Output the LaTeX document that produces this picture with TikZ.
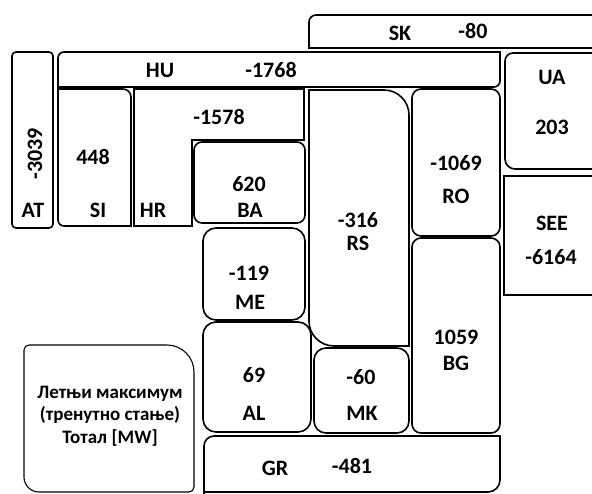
\documentclass[tikz,border=0pt]{standalone}
\usepackage{fontspec}
\setmainfont{Carlito}
\begin{document}
\begin{tikzpicture}[x=1pt,y=-1pt,
  box/.style={draw=black,line width=1.6pt},
  legbox/.style={draw=black,line width=1.1pt},
  lbl/.style={font=\fontsize{22}{24}\selectfont\bfseries,inner sep=0pt,anchor=center},
  leg/.style={font=\fontsize{19}{22.5}\selectfont\bfseries,align=center,inner sep=0pt}]
\useasboundingbox (0,0) rectangle (592,493);
\clip (0,0) rectangle (592,493);
% SK
\draw[box] (600,48) -- (309,48) -- (309,22) arc(180:270:7) -- (600,15);
% HU
\draw[box] (58,87) -- (58,58) arc(180:270:6) -- (500,52) -- (500,81) arc(0:90:6) -- cycle;
% AT
\draw[box,rounded corners=4] (12,52) rectangle (53,228);
% SI
\draw[box] (58,89) -- (123,89) arc(270:360:8) -- (131,226) -- (64,226) arc(90:180:6) -- cycle;
% HR
\draw[box] (134,89) -- (304,89) -- (304,140) -- (192,140) -- (192,226) -- (134,226) -- cycle;
% BA
\draw[box,rounded corners=8] (194,142) rectangle (305,223);
% ME
\draw[box,rounded corners=13] (203,228) rectangle (305,320);
% AL
\draw[box,rounded corners=13] (203,322) rectangle (311,432);
% RS
\draw[box] (309,90) -- (384,90) arc(270:360:25) -- (409,346) -- (334,346) arc(90:180:25) -- cycle;
% MK
\draw[box,rounded corners=12] (314,348) rectangle (409,433);
% RO
\draw[box,rounded corners=9] (412,89) rectangle (500,236);
% BG
\draw[box,rounded corners=9] (412,238) rectangle (500,433);
% UA
\draw[box] (600,53) -- (513,53) arc(270:180:8) -- (505,159) arc(180:90:10) -- (600,169);
% SEE
\draw[box] (600,176) -- (504,176) -- (504,295) -- (600,295);
% GR
\draw[box] (204,500) -- (204,446) arc(180:270:10) -- (500,436) -- (500,480) arc(0:90:12) -- (204,492);
% legend
\draw[legbox] (24,350) arc(180:270:5) -- (167,345) arc(270:360:27) -- (194,487) arc(0:90:5) -- (39,492) arc(90:180:15) -- cycle;

\node[lbl] (sk) at (400,33) {SK};
\node[lbl] (skv) at (473,31) {-80};
\node[lbl] (hu) at (160,70) {HU};
\node[lbl] (huv) at (271,70) {-1768};
\node[lbl,rotate=90] (atv) at (35,154) {-3039};
\node[lbl] (at) at (33,210) {AT};
\node[lbl] (siv) at (93,157) {448};
\node[lbl] (si) at (98,210) {SI};
\node[lbl] (hrv) at (219,117) {-1578};
\node[lbl] (hr) at (153,210) {HR};
\node[lbl] (bav) at (249,184) {620};
\node[lbl] (ba) at (250,210) {BA};
\node[lbl] (rsv) at (358,220) {-316};
\node[lbl] (rs) at (358,243) {RS};
\node[lbl] (rov) at (456,163) {-1069};
\node[lbl] (ro) at (456,196) {RO};
\node[lbl] (ua) at (552,77) {UA};
\node[lbl] (uav) at (552,127) {203};
\node[lbl] (see) at (552,223) {SEE};
\node[lbl] (seev) at (551,257) {-6164};
\node[lbl] (mev) at (249,273) {-119};
\node[lbl] (me) at (250,302) {ME};
\node[lbl] (alv) at (254,375) {69};
\node[lbl] (al) at (254,413) {AL};
\node[lbl] (mkv) at (361,377) {-60};
\node[lbl] (mk) at (362,413) {MK};
\node[lbl] (bgv) at (456,337) {1059};
\node[lbl] (bg) at (456,363) {BG};
\node[lbl] (gr) at (275,468) {GR};
\node[lbl] (grv) at (352,466) {-481};
\node[leg] (legend) at (110,416) {Летњи максимум\\(тренутно стање)\\Тотал [MW]};
\end{tikzpicture}
\end{document}
